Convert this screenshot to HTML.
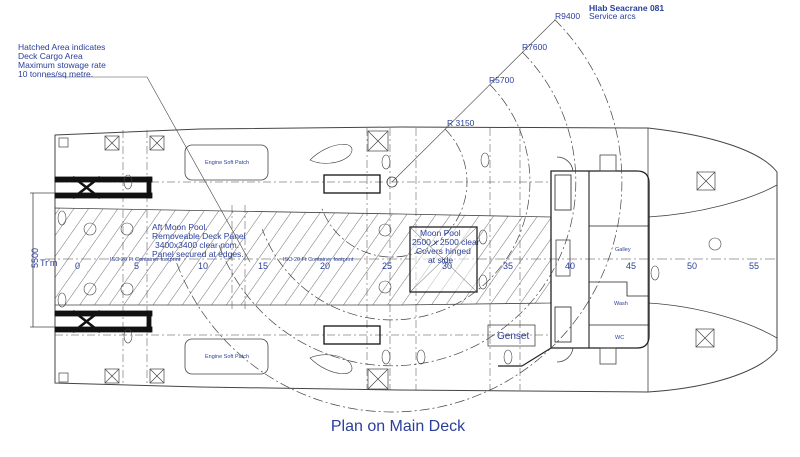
<!DOCTYPE html>
<html><head><meta charset="utf-8"><style>
html,body{margin:0;padding:0;background:#fff;width:800px;height:457px;overflow:hidden}
svg{display:block}
text{font-family:"Liberation Sans",sans-serif;fill:#2a3f9a}
</style></head><body>
<svg width="800" height="457" viewBox="0 0 800 457" xmlns="http://www.w3.org/2000/svg">
<defs>
<pattern id="h" patternUnits="userSpaceOnUse" width="12" height="12" patternTransform="rotate(35)">
<line x1="0" y1="0" x2="0" y2="12" stroke="#333" stroke-width="0.7"/>
</pattern>
</defs>
<g fill="none" stroke="#444" stroke-width="0.8">
<path d="M55,135 L200,129 L400,127 L648,128 C710,135 760,150 777,172 L777,350 C760,372 710,388 648,392 L400,390 L200,387 L55,383 Z" stroke-width="1"/>
<path d="M648,217 C700,214 750,200 777,185"/>
<path d="M648,303 C700,306 750,322 777,338"/>
<line x1="648" y1="128" x2="648" y2="392"/>
<path d="M55,208 L400,214 L551,217 L551,303 L400,305 L55,305 Z" fill="url(#h)" stroke="#444"/>
<line x1="45" y1="259" x2="777" y2="259" stroke-dasharray="10,3,2,3" stroke-width="0.6"/>
<g stroke-dasharray="8,3,2,3" stroke-width="0.5">
<line x1="123" y1="130" x2="123" y2="385"/><line x1="147" y1="130" x2="147" y2="385"/>
<line x1="232" y1="205" x2="232" y2="310"/><line x1="245" y1="205" x2="245" y2="310"/>
<line x1="367" y1="128" x2="367" y2="390"/><line x1="390" y1="128" x2="390" y2="390"/>
<line x1="416" y1="128" x2="416" y2="390"/><line x1="490" y1="128" x2="490" y2="390"/><line x1="520" y1="128" x2="520" y2="390"/>
<line x1="55" y1="182" x2="551" y2="182"/><line x1="55" y1="335" x2="551" y2="335"/>
</g>
<path d="M551,171 L637,171 Q649,171 649,183 L649,336 Q649,348 637,348 L551,348 Z" stroke="#222" stroke-width="1.3"/>
<line x1="589" y1="171" x2="589" y2="348" stroke="#222" stroke-width="1.1"/>
<line x1="589" y1="226" x2="649" y2="226" stroke="#222"/>
<line x1="589" y1="325" x2="649" y2="325" stroke="#222"/>
<path d="M589,282 L627,282 L627,296 L649,296" stroke="#222"/>
<rect x="555" y="175" width="16" height="35" stroke="#222"/>
<rect x="555" y="307" width="16" height="35" stroke="#222"/>
<rect x="556" y="240" width="14" height="36"/>
<rect x="600" y="155" width="16" height="16"/><rect x="600" y="348" width="16" height="16"/>
<path d="M573,171 A16,16 0 0 0 557,157 M573,348 A16,16 0 0 1 557,362"/>
<line x1="551" y1="348" x2="522" y2="366" stroke="#222" stroke-width="1.2"/>
<line x1="522" y1="366" x2="498" y2="366" stroke="#222" stroke-width="1.2"/>
<rect x="410" y="227" width="67" height="65" stroke="#222" stroke-width="1.3" fill="#fff" fill-opacity="0.5"/>
<line x1="410" y1="227" x2="477" y2="292" stroke-width="0.5"/><line x1="477" y1="227" x2="410" y2="292" stroke-width="0.5"/>
<rect x="488" y="325" width="47" height="21"/>
<rect x="185" y="145" width="83" height="35" rx="7"/>
<rect x="185" y="339" width="83" height="35" rx="7"/>
<g fill="#111" stroke="#111">
<rect x="55" y="177" width="97" height="5"/><rect x="55" y="193" width="97" height="5"/>
<rect x="55" y="311" width="97" height="5"/><rect x="55" y="327" width="97" height="5"/>
<rect x="147" y="177" width="4" height="21"/><rect x="147" y="311" width="4" height="21"/>
</g>
<path d="M73,177 L100,198 M100,177 L73,198 M73,311 L100,332 M100,311 L73,332" stroke="#111" stroke-width="2.5"/>
<g stroke-width="0.7">
<rect x="105" y="136" width="14" height="14"/><path d="M105,136 l14,14 M119,136 l-14,14"/>
<rect x="150" y="136" width="14" height="14"/><path d="M150,136 l14,14 M164,136 l-14,14"/>
<rect x="105" y="369" width="14" height="14"/><path d="M105,369 l14,14 M119,369 l-14,14"/>
<rect x="150" y="369" width="14" height="14"/><path d="M150,369 l14,14 M164,369 l-14,14"/>
<rect x="368" y="131" width="20" height="20"/><path d="M368,131 l20,20 M388,131 l-20,20"/>
<rect x="368" y="369" width="20" height="20"/><path d="M368,369 l20,20 M388,369 l-20,20"/>
<rect x="697" y="172" width="18" height="18"/><path d="M697,172 l18,18 M715,172 l-18,18"/>
<rect x="696" y="329" width="18" height="18"/><path d="M696,329 l18,18 M714,329 l-18,18"/>
<rect x="59" y="138" width="9" height="9"/><rect x="59" y="373" width="9" height="9"/>
</g>
<rect x="324" y="175" width="56" height="18" stroke="#111" stroke-width="1.3"/>
<rect x="324" y="326" width="56" height="18" stroke="#111" stroke-width="1.3"/>
<circle cx="392" cy="182" r="5"/>
<g stroke-width="0.6">
<ellipse cx="62" cy="218" rx="4" ry="7"/><ellipse cx="62" cy="300" rx="4" ry="7"/>
<ellipse cx="128" cy="182" rx="4" ry="7"/><ellipse cx="128" cy="336" rx="4" ry="7"/>
<ellipse cx="485" cy="160" rx="4" ry="7"/><ellipse cx="483" cy="237" rx="4" ry="7"/><ellipse cx="483" cy="282" rx="4" ry="7"/>
<ellipse cx="421" cy="357" rx="4" ry="7"/><ellipse cx="508" cy="357" rx="4" ry="7"/><ellipse cx="655" cy="273" rx="4" ry="7"/>
<ellipse cx="386" cy="162" rx="4" ry="7"/><ellipse cx="386" cy="357" rx="4" ry="7"/>
<circle cx="715" cy="244" r="6"/>
<circle cx="90" cy="229" r="6"/><circle cx="127" cy="229" r="6"/><circle cx="90" cy="289" r="6"/><circle cx="127" cy="289" r="6"/>
<circle cx="385" cy="230" r="6"/><circle cx="385" cy="287" r="6"/>
</g>
<path d="M310,160 C330,140 360,140 350,155 C340,165 320,165 310,160Z" stroke-width="0.6"/>
<path d="M310,358 C330,378 360,378 350,363 C340,353 320,353 310,358Z" stroke-width="0.6"/>
<line x1="33" y1="193" x2="33" y2="327"/><line x1="30" y1="193" x2="55" y2="193"/><line x1="30" y1="327" x2="55" y2="327"/>
<path d="M45,77 L147,77 L250,262" stroke-width="0.6"/>
<g stroke-dasharray="10,3,2,3" stroke-width="0.7">
<path d="M445,129 A75,75 0 1 1 321.5,207.7"/>
<path d="M489.6,84.4 A138,138 0 1 1 262.3,229.2"/>
<path d="M522.1,51.9 A184,184 0 1 1 219,245"/>
<path d="M554.6,19.4 A230,230 0 1 1 175.8,260.7"/>
</g>
<path d="M392,182 L555,20" stroke-width="0.6"/>
</g>
<g font-size="8.5">
<text x="18" y="50">Hatched Area indicates</text>
<text x="18" y="59">Deck Cargo Area</text>
<text x="18" y="68">Maximum stowage rate</text>
<text x="18" y="77">10 tonnes/sq metre.</text>
<text x="555" y="19">R9400</text><text x="522" y="50">R7600</text><text x="489" y="83">R5700</text><text x="447" y="126">R 3150</text>
<text x="589" y="11" font-weight="bold">Hlab Seacrane 081</text>
<text x="589" y="19">Service arcs</text>
<text x="152" y="230">Aft Moon Pool.</text>
<text x="152" y="239">Removeable Deck Panel</text>
<text x="155" y="248">3400x3400 clear nom.</text>
<text x="152" y="257">Panel secured at edges.</text>
<text x="420" y="236">Moon Pool</text>
<text x="412" y="245">2500 x 2500 clear</text>
<text x="416" y="254">Covers hinged</text>
<text x="428" y="263">at side</text>
</g>
<text x="497" y="339" font-size="10">Genset</text>
<g font-size="5.5">
<text x="205" y="164">Engine Soft Patch</text><text x="205" y="358">Engine Soft Patch</text>
<text x="615" y="251">Galley</text><text x="614" y="305">Wash</text><text x="615" y="339">WC</text>
<text x="110" y="261">ISO 20 Ft Container footprint</text>
<text x="283" y="261">ISO 20 Ft Container footprint</text>
</g>
<g font-size="9">
<text x="75" y="269">0</text><text x="134" y="269">5</text><text x="198" y="269">10</text><text x="258" y="269">15</text><text x="320" y="269">20</text><text x="382" y="269">25</text><text x="442" y="269">30</text><text x="503" y="269">35</text><text x="565" y="269">40</text><text x="626" y="269">45</text><text x="687" y="269">50</text><text x="749" y="269">55</text>
<text x="40" y="266">Tr'm</text>
<text x="0" y="0" transform="translate(38,268) rotate(-90)">5500</text>
</g>
<text x="398" y="431" font-size="16" text-anchor="middle">Plan on Main Deck</text>
</svg>
</body></html>
